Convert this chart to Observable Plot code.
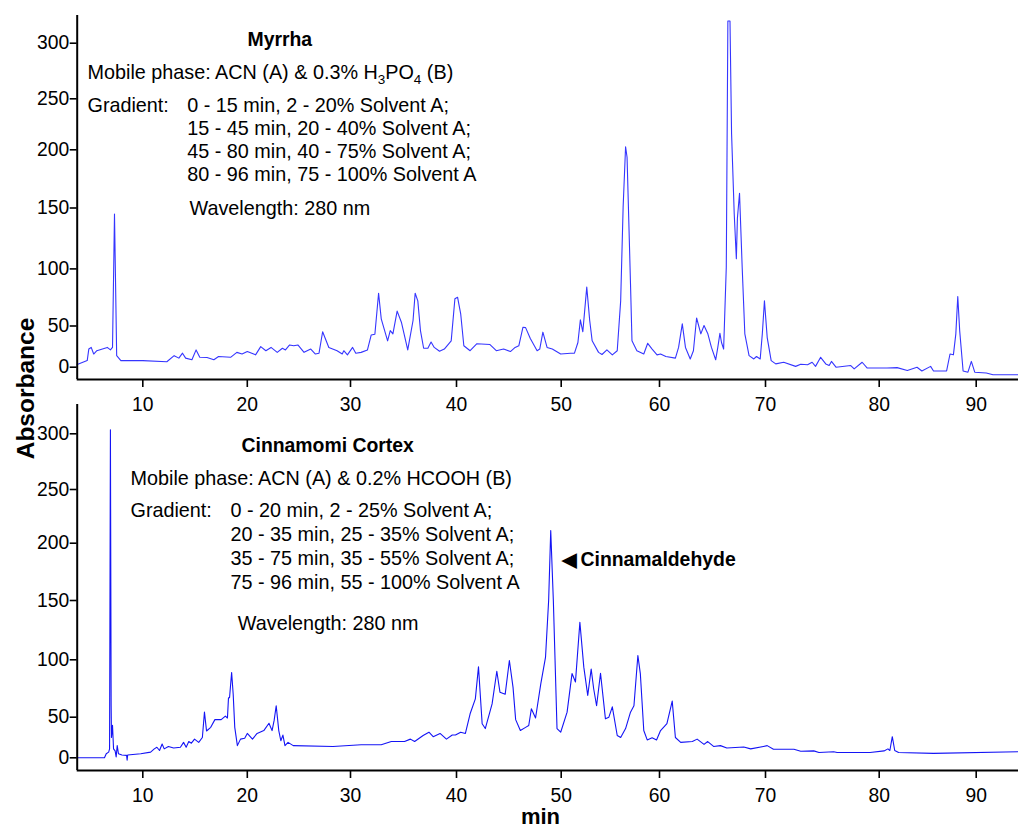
<!DOCTYPE html>
<html>
<head>
<meta charset="utf-8">
<script src="https://cdn.jsdelivr.net/npm/d3@7"></script>
<script src="https://cdn.jsdelivr.net/npm/@observablehq/plot@0.6"></script>
<style>
  html, body { margin: 0; padding: 0; background: #fff; }
  #chart { position: relative; width: 1018px; height: 828px; overflow: hidden; background: #fff; }
  #chart svg { position: absolute; left: 0; }
</style>
</head>
<body>
<div id="chart"></div>
<script>
// ---------- data (time in min, absorbance) ----------
const myrrha = [
  [3.72,3.3],[4.68,8],[4.83,22],[5.06,24],[5.3,16],[5.6,20],[6.6,24],[6.9,21],[7.1,24],[7.29,145],[7.5,14],[7.9,8],
  [10.0,8],[12.3,6.6],[13.0,14],[13.45,11],[13.8,17],[14.1,11],[14.7,9],[15.1,21],[15.45,12],[16.15,11.7],[16.8,9],
  [17.25,13],[18.4,12],[19.0,18],[19.5,16],[20.0,19],[20.8,15],[21.3,25],[21.8,20],[22.3,24],[22.9,18],[23.4,23],
  [23.7,21],[24.1,27],[24.5,26],[24.9,27],[25.5,18],[26.15,22],[26.6,16],[26.95,17],[27.3,43],[27.9,24],[28.7,20],
  [29.2,16],[29.35,20],[29.7,15],[30.2,24],[30.5,17],[31.0,18],[31.6,21],[31.95,39],[32.3,40],[32.65,78.7],[32.9,56.3],
  [33.5,32],[33.75,44.5],[34.0,40.5],[34.4,63],[34.8,53.3],[35.4,21],[35.9,54.8],[36.1,78.7],[36.35,72],[36.6,44.5],
  [36.9,23],[37.3,23],[37.6,30.5],[37.9,24],[38.4,19.4],[38.85,22],[39.5,32],[39.85,73.8],[40.1,75.2],[40.4,60.7],
  [40.7,26],[41.3,20],[41.95,28.5],[43.2,27.5],[43.8,20],[44.5,22],[45.15,19],[45.6,24],[45.95,26],[46.35,48.5],
  [46.6,48],[47.05,34.9],[47.7,20],[47.95,22],[48.25,42.5],[48.65,24],[49.15,22],[49.95,16],[50.95,17],[51.35,17],
  [51.7,30],[51.95,55.4],[52.2,43],[52.6,84],[52.9,54.8],[53.15,32],[53.8,18],[54.15,15.4],[54.65,21],[55.2,15],
  [55.7,20],[56.05,72],[56.3,150.7],[56.55,203],[56.7,193.6],[57.05,87],[57.2,32],[57.7,20],[58.4,16],[58.8,29],
  [59.25,22],[59.75,15],[60.1,16],[60.6,13],[61.5,11],[61.8,24],[62.15,51.9],[62.45,24],[62.9,10],[63.2,20],
  [63.5,57],[63.9,40.5],[64.2,50.4],[64.55,41],[64.9,24],[65.3,9],[65.5,24],[65.7,41],[65.85,30],[66.05,22],
  [66.3,101.4],[66.45,320],[66.65,320],[66.8,215.7],[67.05,145],[67.25,108.3],[67.35,141.7],[67.55,162.7],[67.8,101.4],
  [68.05,40.5],[68.45,14],[68.9,10],[69.15,13],[69.5,10],[69.7,40.5],[69.9,72],[70.15,36],[70.5,8],[70.9,4],
  [71.6,6],[72.65,1],[73.1,3.5],[73.7,3],[74.1,6],[74.4,1],[74.85,12],[75.3,4],[75.6,2],[75.8,7],[76.2,0],
  [77.5,2],[77.8,-2],[78.5,6],[78.95,-1],[80.8,-1],[81.85,-0.5],[82.9,-4],[83.9,0],[84.4,-4.5],[85.3,1],[85.6,-4.5],
  [86.95,-4.5],[87.3,16],[87.65,15],[87.9,40.5],[88.1,75.8],[88.3,44],[88.65,-4.5],[89.15,-6],[89.5,7],[89.85,-6],
  [91.05,-7],[91.75,-9],[94.4,-9]
];

const cinnamomi = [
  [3.72,0],[6.33,0],[6.5,5],[6.73,7],[6.82,11],[6.9,303.6],[6.97,60],[7.0,25],[7.1,40],[7.2,11],[7.35,8.5],[7.45,1],
  [7.55,15],[7.67,5],[8.0,3.5],[8.45,3],[8.5,-3],[8.55,3.5],[9.8,5],[10.75,7],[11.1,11],[11.35,13],[11.6,9],
  [11.85,17],[12.05,11],[12.45,14],[12.95,12],[13.6,13],[13.9,19],[14.15,13],[14.4,20],[14.65,18],[14.95,23],
  [15.35,19],[15.7,25],[15.9,54.4],[16.1,33],[16.5,37.5],[16.9,47],[17.5,47],[17.9,51],[18.1,49],[18.2,67],[18.3,67],
  [18.5,89],[18.65,70],[18.8,37.5],[19.05,15],[19.35,23],[19.75,24],[20.0,30],[20.5,23],[20.95,30],[21.6,33.5],
  [22.1,42.5],[22.4,33.5],[22.6,46],[22.8,60],[23.05,33.5],[23.25,21],[23.45,28],[23.65,15],[23.95,19],[24.45,15],
  [28.3,14],[31.0,16],[32.9,16],[33.85,20],[35.1,20],[35.65,23],[36.05,20],[36.85,27.5],[37.4,31.5],[37.8,26],
  [38.45,30],[39.05,23],[39.6,28],[39.9,28],[40.4,31.5],[40.85,30],[41.3,53],[41.8,66],[42.1,94],[42.45,42],
  [42.75,36],[43.4,61.6],[43.85,90],[44.15,71.8],[44.65,70],[45.05,99.4],[45.4,76],[45.65,47],[46.1,33.6],
  [46.6,37.5],[46.9,39.8],[47.15,57.3],[47.55,49],[48.05,79],[48.5,102],[48.8,150],[49.0,211.8],[49.25,150],
  [49.6,36],[49.95,31.5],[50.6,54.4],[51.1,88],[51.45,80.7],[51.9,131.7],[52.3,93.6],[52.7,69],[53.05,92],[53.3,75],
  [53.6,60],[54.0,88.3],[54.5,48],[54.85,50],[55.2,59],[55.7,27.5],[56.05,25],[56.55,36],[57.05,54.4],[57.4,60],
  [57.8,103.6],[58.05,88],[58.4,33.6],[58.75,22],[59.25,24.6],[59.7,22],[60.1,33.6],[60.7,42],[61.2,64],[61.5,25],
  [62.0,19],[63.1,20],[63.55,23],[64.2,16.6],[64.55,20],[65.1,14],[65.75,15],[66.35,12],[67.95,13.3],[68.6,11],
  [69.8,14],[70.15,15],[70.7,10.5],[72.5,10.5],[73.1,8],[74.25,8.5],[74.7,6.5],[76.0,7.5],[76.3,6.5],[79.2,6.5],
  [80.5,8.5],[80.9,11],[81.1,9],[81.35,26],[81.6,9],[82.0,6.5],[85.6,5.5],[94.4,7.5]
];

const xTicks = [10, 20, 30, 40, 50, 60, 70, 80, 90];
const yTicks = [0, 50, 100, 150, 200, 250, 300];

const myrrhaTitle = "Myrrha";
const myrrhaMobile = "Mobile phase: ACN (A) & 0.3% H3PO4 (B)";
const myrrhaGradient = [
  "0 - 15 min, 2 - 20% Solvent A;",
  "15 - 45 min, 20 - 40% Solvent A;",
  "45 - 80 min, 40 - 75% Solvent A;",
  "80 - 96 min, 75 - 100% Solvent A"
];
const cinnTitle = "Cinnamomi Cortex";
const cinnMobile = "Mobile phase: ACN (A) & 0.2% HCOOH (B)";
const cinnGradient = [
  "0 - 20 min, 2 - 25% Solvent A;",
  "20 - 35 min, 25 - 35% Solvent A;",
  "35 - 75 min, 35 - 55% Solvent A;",
  "75 - 96 min, 55 - 100% Solvent A"
];
const gradientLabel = "Gradient:";
const wavelengthLabel = "Wavelength: 280 nm";
const peakLabel = "Cinnamaldehyde";
const yLabel = "Absorbance";
const xLabel = "min";

// ---------- layout ----------
const W = 1018;
const FONT = "'Liberation Sans', Arial, Helvetica, sans-serif";
const xDomain = [3.72, 10, 20, 30, 40, 50, 60, 70, 80, 90, 94.4];
const xRange  = [76.7, 142.3, 246.8, 350, 456, 560.7, 659, 765, 878.7, 975.7, 1018];

function note(str, dx, dy, o = {}) {
  return Plot.text([str], {
    frameAnchor: "top-left", dx, dy,
    textAnchor: "start", lineAnchor: "bottom",
    fontSize: 19.8, fill: "#000", ...o
  });
}
const bold = {fontWeight: "bold", fontSize: 19.4};

function panel({data, height, marginTop, marginBottom, yDomain, yRange, stroke, strokeWidth, extra}) {
  return Plot.plot({
    width: W, height,
    marginLeft: xRange[0], marginRight: 0, marginTop, marginBottom,
    style: {fontFamily: FONT, fontSize: "19.3px", background: "transparent", overflow: "visible", color: "#000"},
    x: {type: "linear", domain: xDomain, range: xRange},
    y: {type: "linear", domain: yDomain, range: yRange},
    marks: [
      Plot.line(data, {x: d => d[0], y: d => d[1], stroke, strokeWidth}),
      Plot.ruleX([xDomain[0]], {stroke: "#000", strokeWidth: 2}),
      Plot.ruleY([yDomain[0]], {stroke: "#000", strokeWidth: 2}),
      Plot.axisX({ticks: xTicks, tickSize: 8, tickPadding: 10, strokeWidth: 1.6, label: null, fill: "#000"}),
      Plot.axisY({ticks: yTicks, tickSize: 7, tickPadding: 1, strokeWidth: 1.6, label: null, fill: "#000"}),
      ...extra
    ]
  });
}

function subscriptify(svg) {
  d3.select(svg).selectAll("text").each(function () {
    const m = this.textContent.match(/^(.*H)3(PO)4(.*)$/);
    if (!m) return;
    this.textContent = "";
    const s = d3.select(this);
    s.append("tspan").text(m[1]);
    s.append("tspan").attr("dy", 5).attr("font-size", 13.5).text("3");
    s.append("tspan").attr("dy", -5).text(m[2]);
    s.append("tspan").attr("dy", 5).attr("font-size", 13.5).text("4");
    s.append("tspan").attr("dy", -5).text(m[3]);
  });
}

// top panel: frame top-left at (76.7, 15)
const topSvg = panel({
  data: myrrha, height: 400, marginTop: 15, marginBottom: 21,
  yDomain: [-14.8, 0, 50, 100, 150, 200, 250, 300, 325],
  yRange:  [379, 366.7, 325.5, 268.4, 207.5, 149.3, 98.3, 42.7, 15],
  stroke: "#3535ff", strokeWidth: 1.1,
  extra: [
    note(myrrhaTitle, 170.3, 30, bold),
    note(myrrhaMobile, 10.3, 63),
    note(gradientLabel, 10.3, 96),
    ...myrrhaGradient.map((s, i) => note(s, 110, 96 + i * 23.3)),
    note(wavelengthLabel, 112.3, 199.3)
  ]
});
subscriptify(topSvg);

// bottom panel: svg placed at y=400; frame top-left at (76.7, 4)
const bottomSvg = panel({
  data: cinnamomi, height: 428, marginTop: 4, marginBottom: 58,
  yDomain: [-15.6, 0, 50, 100, 150, 200, 250, 300, 326.3],
  yRange:  [370, 357.3, 316.7, 259.3, 200, 142.7, 89, 33.3, 4],
  stroke: "#1414f5", strokeWidth: 1.1,
  extra: [
    note(cinnTitle, 164.3, 47, bold),
    note(cinnMobile, 53.3, 80),
    note(gradientLabel, 53.3, 112.7),
    ...cinnGradient.map((s, i) => note(s, 153.3, 112.7 + i * 23.9)),
    note(wavelengthLabel, 160.6, 225.3),
    note("\u25C0", 484.3, 161, bold),
    note(peakLabel, 503.3, 161, bold),
    note(yLabel, -43, -16, {fontWeight: "bold", fontSize: 24.5, rotate: -90, textAnchor: "middle"}),
    Plot.text([xLabel], {frameAnchor: "bottom-left", dx: 463.3, dy: 53, textAnchor: "middle", lineAnchor: "bottom", fontWeight: "bold", fontSize: 22, fill: "#000"})
  ]
});

topSvg.style.top = "0px";
bottomSvg.style.top = "400px";
topSvg.style.position = "absolute";
bottomSvg.style.position = "absolute";
const chart = document.getElementById("chart");
chart.appendChild(topSvg);
chart.appendChild(bottomSvg);
</script>
</body>
</html>
